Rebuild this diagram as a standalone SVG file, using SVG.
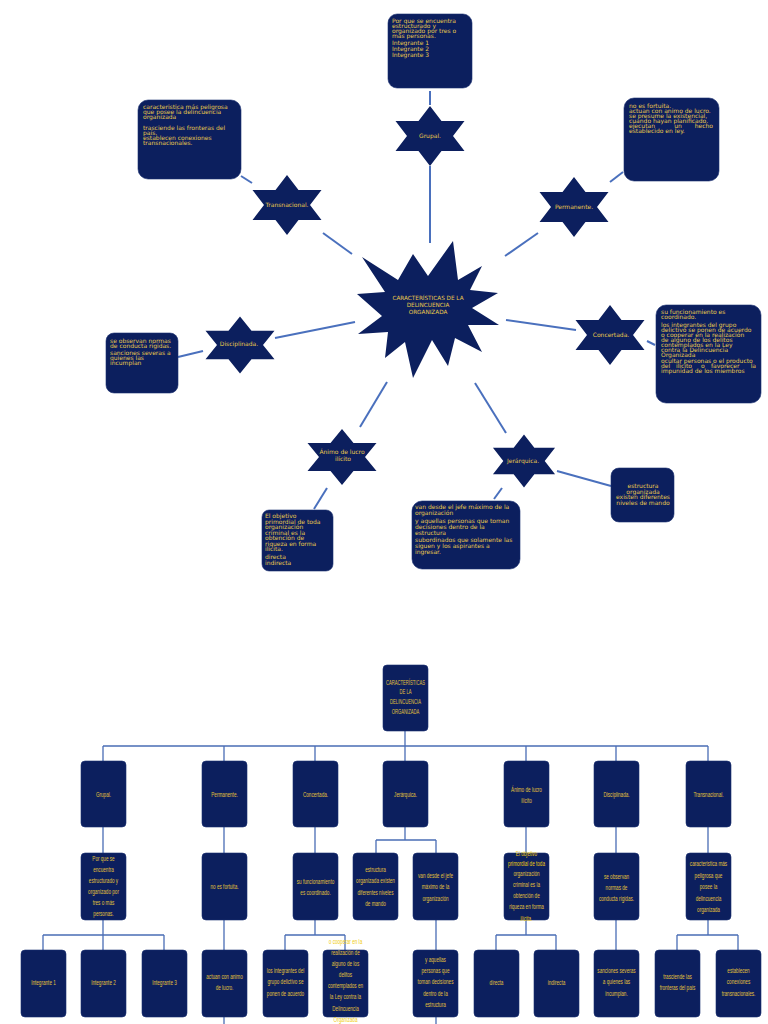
<svg xmlns="http://www.w3.org/2000/svg" width="768" height="1024" viewBox="0 0 768 1024">
<style>
.bg{fill:#ffffff}
.box{fill:#0c1f5e;stroke:#1a2f70;stroke-width:0.6}
.star{fill:#0c1f5e}
.ln{stroke:#4a70bd;stroke-width:2;fill:none;stroke-linecap:butt}
.ln2{stroke:#4a6db5;stroke-width:1.3;fill:none}
.tt{font-family:"DejaVu Sans","Liberation Sans",sans-serif;font-size:6px;fill:#e8c84c}
.st{font-family:"DejaVu Sans","Liberation Sans",sans-serif;font-size:6px;fill:#e8c84c;text-anchor:middle}
.bt{font-family:"Liberation Sans",Arial,sans-serif;font-size:8px;fill:#e2c13a;text-anchor:middle}
.ov{fill:#f0cc10}
</style>
<defs>
<polygon id="hex" points="0,-30 11.5,-15 34.5,-15 23,0 34.5,15 11.5,15 0,30 -11.5,15 -34.5,15 -23,0 -34.5,-15 -11.5,-15"/>
</defs>
<rect class="bg" x="0" y="0" width="768" height="1024"/>

<g id="connectors-top">
<line class="ln" x1="430" y1="91" x2="430" y2="105"/>
<line class="ln" x1="430" y1="166" x2="430" y2="243"/>
<line class="ln" x1="241" y1="176" x2="252" y2="183"/>
<line class="ln" x1="323" y1="233" x2="352" y2="254"/>
<line class="ln" x1="623" y1="172" x2="610" y2="182"/>
<line class="ln" x1="538" y1="233" x2="505" y2="256"/>
<line class="ln" x1="178" y1="357" x2="203" y2="351"/>
<line class="ln" x1="275" y1="338" x2="355" y2="322"/>
<line class="ln" x1="506" y1="320" x2="576" y2="330"/>
<line class="ln" x1="647" y1="341" x2="655" y2="345"/>
<line class="ln" x1="387" y1="382" x2="360" y2="427"/>
<line class="ln" x1="327" y1="488" x2="314" y2="509"/>
<line class="ln" x1="475" y1="383" x2="506" y2="433"/>
<line class="ln" x1="557" y1="471" x2="611" y2="486"/>
<line class="ln" x1="502" y1="488" x2="494" y2="499"/>
</g>

<g id="center">
<polygon class="star" points="453,241 458,280 482,266 470,290 498,293 472,308 499,325 468,325 482,352 455,338 448,366 432,340 413,378 405,342 385,358 388,332 358,334 382,316 357,294 385,292 362,257 398,280 413,254 428,276"/>
<text class="st" style="font-size:5.7px" x="428" y="300">CARACTERÍSTICAS DE LA</text>
<text class="st" style="font-size:5.7px" x="428" y="307">DELINCUENCIA</text>
<text class="st" style="font-size:5.7px" x="428" y="313.5">ORGANIZADA</text>
</g>

<g id="star-grupal">
<use href="#hex" class="star" transform="translate(430,136)"/>
<text class="st" x="430" y="138">Grupal.</text>
</g>
<g id="box-grupal">
<rect class="box" x="388" y="14" width="84" height="74" rx="9"/>
<text class="tt" x="392" y="22.7">Por que se encuentra</text>
<text class="tt" x="392" y="27.7">estructurado y</text>
<text class="tt" x="392" y="32.7">organizado por tres o</text>
<text class="tt" x="392" y="37.7">más personas.</text>
<text class="tt" x="392" y="45">Integrante 1</text>
<text class="tt" x="392" y="51">Integrante 2</text>
<text class="tt" x="392" y="57">Integrante 3</text>
</g>

<g id="star-transnacional">
<use href="#hex" class="star" transform="translate(287,205)"/>
<text class="st" x="287" y="207">Transnacional.</text>
</g>
<g id="box-transnacional">
<rect class="box" x="138" y="100" width="103" height="79" rx="10"/>
<text class="tt" x="143" y="108.7">caracteristica más peligrosa</text>
<text class="tt" x="143" y="113.7">que posee la delincuencia</text>
<text class="tt" x="143" y="118.7">organizada</text>
<text class="tt" x="143" y="129.7">trasciende las fronteras del</text>
<text class="tt" x="143" y="134.7">país.</text>
<text class="tt" x="143" y="140.3">establecen conexiones</text>
<text class="tt" x="143" y="145.3">transnacionales.</text>
</g>

<g id="star-permanente">
<use href="#hex" class="star" transform="translate(574,207)"/>
<text class="st" x="574" y="209">Permanente.</text>
</g>
<g id="box-permanente">
<rect class="box" x="624" y="98" width="95" height="83" rx="10"/>
<text class="tt" x="629" y="107.7">no es fortuita.</text>
<text class="tt" x="629" y="113">actuan con animo de lucro.</text>
<text class="tt" x="629" y="118">se presume la existencial,</text>
<text class="tt" x="629" y="123">cuando hayan planificado.</text>
<text class="tt" x="629" y="128">ejecutan</text>
<text class="tt" x="678" y="128" text-anchor="middle">un</text>
<text class="tt" x="713" y="128" text-anchor="end">hecho</text>
<text class="tt" x="629" y="133">establecido en ley.</text>
</g>

<g id="star-disciplinada">
<use href="#hex" class="star" transform="translate(240,345) scale(1,0.95)"/>
<text class="st" x="239" y="346">Disciplinada.</text>
</g>
<g id="box-disciplinada">
<rect class="box" x="106" y="333" width="72" height="60" rx="8"/>
<text class="tt" x="110" y="342.7">se observan normas</text>
<text class="tt" x="110" y="348">de conducta rígidas.</text>
<text class="tt" x="110" y="355.3">sanciones severas a</text>
<text class="tt" x="110" y="360.3">quienes las</text>
<text class="tt" x="110" y="365.3">incumplan</text>
</g>

<g id="star-concertada">
<use href="#hex" class="star" transform="translate(610,335)"/>
<text class="st" x="611" y="337">Concertada.</text>
</g>
<g id="box-concertada">
<rect class="box" x="656" y="305" width="105" height="98" rx="10"/>
<text class="tt" x="661" y="313.7">su funcionamiento es</text>
<text class="tt" x="661" y="319.3">coordinado.</text>
<text class="tt" x="661" y="327">los integrantes del grupo</text>
<text class="tt" x="661" y="332">delictivo se ponen de acuerdo</text>
<text class="tt" x="661" y="337">o cooperar en la realización</text>
<text class="tt" x="661" y="342">de alguno de los delitos</text>
<text class="tt" x="661" y="347">contemplados en la Ley</text>
<text class="tt" x="661" y="352">contra la Delincuencia</text>
<text class="tt" x="661" y="357">Organizada</text>
<text class="tt" x="661" y="362.7">ocultar personas o el producto</text>
<text class="tt" x="661" y="368">del</text>
<text class="tt" x="676" y="368">ilícito</text>
<text class="tt" x="701" y="368">o</text>
<text class="tt" x="711" y="368">favorecer</text>
<text class="tt" x="756" y="368" text-anchor="end">la</text>
<text class="tt" x="661" y="373">impunidad de los miembros</text>
</g>

<g id="star-animo">
<use href="#hex" class="star" transform="translate(342,457) scale(1,0.93)"/>
<text class="st" x="342" y="454">Ánimo de lucro</text>
<text class="st" x="343" y="461">ilícito</text>
</g>
<g id="box-animo">
<rect class="box" x="262" y="510" width="71" height="61" rx="7"/>
<text class="tt" x="265" y="518">El objetivo</text>
<text class="tt" x="265" y="523.7">primordial de toda</text>
<text class="tt" x="265" y="529.3">organización</text>
<text class="tt" x="265" y="534.7">criminal es la</text>
<text class="tt" x="265" y="540.3">obtención de</text>
<text class="tt" x="265" y="546">riqueza en forma</text>
<text class="tt" x="265" y="551.3">ilícita.</text>
<text class="tt" x="265" y="558.7">directa</text>
<text class="tt" x="265" y="565.3">indirecta</text>
</g>

<g id="star-jerarquica">
<use href="#hex" class="star" transform="translate(524,461) scale(0.9,0.88)"/>
<text class="st" x="523" y="463">Jerárquica.</text>
</g>
<g id="box-jerarquica-1">
<rect class="box" x="611" y="468" width="63" height="54" rx="8"/>
<text class="st" x="643" y="488">estructura</text>
<text class="st" x="643" y="493.7">organizada</text>
<text class="st" x="643" y="499.3">existen diferentes</text>
<text class="st" x="643" y="505.3">niveles de mando</text>
</g>
<g id="box-jerarquica-2">
<rect class="box" x="412" y="501" width="108" height="68" rx="10"/>
<text class="tt" x="415" y="508.7">van desde el jefe máximo de la</text>
<text class="tt" x="415" y="515.3">organización</text>
<text class="tt" x="415" y="522.7">y aquellas personas que toman</text>
<text class="tt" x="415" y="528.7">decisiones dentro de la</text>
<text class="tt" x="415" y="534.7">estructura</text>
<text class="tt" x="415" y="542">subordinados que solamente las</text>
<text class="tt" x="415" y="548">siguen y los aspirantes a</text>
<text class="tt" x="415" y="554.3">ingresar.</text>
</g>

<!-- Bottom org chart -->
<g id="connectors-bottom">
<path class="ln2" d="M405,731V746M103,746H708M103,746V761M224,746V761M315,746V761M405,746V761M526,746V761M616,746V761M708,746V761"/>
<path class="ln2" d="M103,827V853M224,827V853M315,827V853M526,827V853M616,827V853M708,827V853M405,827V840M376,840H436M376,840V853M436,840V853"/>
<path class="ln2" d="M103,920V935M43,935H164M43,935V950M103,935V950M164,935V950"/>
<path class="ln2" d="M224,920V950M224,1017V1024"/>
<path class="ln2" d="M315,920V935M285,935H345M285,935V950M345,935V950"/>
<path class="ln2" d="M436,920V950M436,1017V1024"/>
<path class="ln2" d="M526,920V935M496,935H556M496,935V950M556,935V950"/>
<path class="ln2" d="M616,920V950"/>
<path class="ln2" d="M708,920V935M677,935H738M677,935V950M738,935V950"/>
</g>

<g id="o-root">
<rect class="box" x="383" y="665" width="45" height="66" rx="4"/>
<text class="bt" transform="translate(405.5,685) scale(0.52,1)">CARACTERÍSTICAS</text>
<text class="bt" transform="translate(405.5,694) scale(0.52,1)">DE LA</text>
<text class="bt" transform="translate(405.5,704) scale(0.52,1)">DELINCUENCIA</text>
<text class="bt" transform="translate(405.5,714) scale(0.52,1)">ORGANIZADA</text>
</g>

<g id="o-grupal">
<rect class="box" x="81" y="761" width="45" height="66" rx="4"/>
<text class="bt" transform="translate(103.5,797) scale(0.58,1)">Grupal.</text>
</g>
<g id="o-permanente">
<rect class="box" x="202" y="761" width="45" height="66" rx="4"/>
<text class="bt" transform="translate(224.5,797) scale(0.58,1)">Permanente.</text>
</g>
<g id="o-concertada">
<rect class="box" x="293" y="761" width="45" height="66" rx="4"/>
<text class="bt" transform="translate(315.5,797) scale(0.58,1)">Concertada.</text>
</g>
<g id="o-jerarquica">
<rect class="box" x="383" y="761" width="45" height="66" rx="4"/>
<text class="bt" transform="translate(405.5,797) scale(0.58,1)">Jerárquica.</text>
</g>
<g id="o-animo">
<rect class="box" x="504" y="761" width="45" height="66" rx="4"/>
<text class="bt" transform="translate(526.5,792) scale(0.58,1)">Ánimo de lucro</text>
<text class="bt" transform="translate(526.5,803) scale(0.58,1)">ilícito</text>
</g>
<g id="o-disciplinada">
<rect class="box" x="594" y="761" width="45" height="66" rx="4"/>
<text class="bt" transform="translate(616.5,797) scale(0.58,1)">Disciplinada.</text>
</g>
<g id="o-transnacional">
<rect class="box" x="686" y="761" width="45" height="66" rx="4"/>
<text class="bt" transform="translate(708.5,797) scale(0.58,1)">Transnacional.</text>
</g>

<g id="o-grupal-2">
<rect class="box" x="81" y="853" width="45" height="67" rx="4"/>
<text class="bt" transform="translate(103.5,861) scale(0.58,1)">Por que se</text>
<text class="bt" transform="translate(103.5,872) scale(0.58,1)">encuentra</text>
<text class="bt" transform="translate(103.5,883) scale(0.58,1)">estructurado y</text>
<text class="bt" transform="translate(103.5,894) scale(0.58,1)">organizado por</text>
<text class="bt" transform="translate(103.5,905) scale(0.58,1)">tres o más</text>
<text class="bt" transform="translate(103.5,916) scale(0.58,1)">personas.</text>
</g>
<g id="o-permanente-2">
<rect class="box" x="202" y="853" width="45" height="67" rx="4"/>
<text class="bt" transform="translate(224.5,889) scale(0.58,1)">no es fortuita.</text>
</g>
<g id="o-concertada-2">
<rect class="box" x="293" y="853" width="45" height="67" rx="4"/>
<text class="bt" transform="translate(315.5,884) scale(0.58,1)">su funcionamiento</text>
<text class="bt" transform="translate(315.5,895) scale(0.58,1)">es coordinado.</text>
</g>
<g id="o-jerarquica-2a">
<rect class="box" x="353" y="853" width="45" height="67" rx="4"/>
<text class="bt" transform="translate(375.5,872) scale(0.58,1)">estructura</text>
<text class="bt" transform="translate(375.5,883) scale(0.58,1)">organizada existen</text>
<text class="bt" transform="translate(375.5,895) scale(0.58,1)">diferentes niveles</text>
<text class="bt" transform="translate(375.5,906) scale(0.58,1)">de mando</text>
</g>
<g id="o-jerarquica-2b">
<rect class="box" x="413" y="853" width="45" height="67" rx="4"/>
<text class="bt" transform="translate(435.5,878) scale(0.58,1)">van desde el  jefe</text>
<text class="bt" transform="translate(435.5,889) scale(0.58,1)">máximo de la</text>
<text class="bt" transform="translate(435.5,901) scale(0.58,1)">organización</text>
</g>
<g id="o-animo-2">
<rect class="box" x="504" y="853" width="45" height="67" rx="4"/>
<text class="bt ov" transform="translate(526.5,856) scale(0.58,1)">El objetivo</text>
<text class="bt ov" transform="translate(526.5,866) scale(0.58,1)">primordial de toda</text>
<text class="bt" transform="translate(526.5,876) scale(0.58,1)">organización</text>
<text class="bt" transform="translate(526.5,887) scale(0.58,1)">criminal es la</text>
<text class="bt" transform="translate(526.5,898) scale(0.58,1)">obtención de</text>
<text class="bt" transform="translate(526.5,909) scale(0.58,1)">riqueza en forma</text>
<text class="bt ov" transform="translate(526.5,921) scale(0.58,1)">ilícita.</text>
</g>
<g id="o-disciplinada-2">
<rect class="box" x="594" y="853" width="45" height="67" rx="4"/>
<text class="bt" transform="translate(616.5,879) scale(0.58,1)">se observan</text>
<text class="bt" transform="translate(616.5,890) scale(0.58,1)">normas de</text>
<text class="bt" transform="translate(616.5,901) scale(0.58,1)">conducta rígidas.</text>
</g>
<g id="o-transnacional-2">
<rect class="box" x="686" y="853" width="45" height="67" rx="4"/>
<text class="bt" transform="translate(708.5,866) scale(0.58,1)">caracteristica más</text>
<text class="bt" transform="translate(708.5,878) scale(0.58,1)">peligrosa que</text>
<text class="bt" transform="translate(708.5,889) scale(0.58,1)">posee la</text>
<text class="bt" transform="translate(708.5,901) scale(0.58,1)">delincuencia</text>
<text class="bt" transform="translate(708.5,912) scale(0.58,1)">organizada</text>
</g>

<g id="o-integrante-1">
<rect class="box" x="21" y="950" width="45" height="67" rx="4"/>
<text class="bt" transform="translate(43.5,985) scale(0.58,1)">Integrante 1</text>
</g>
<g id="o-integrante-2">
<rect class="box" x="81" y="950" width="45" height="67" rx="4"/>
<text class="bt" transform="translate(103.5,985) scale(0.58,1)">Integrante 2</text>
</g>
<g id="o-integrante-3">
<rect class="box" x="142" y="950" width="45" height="67" rx="4"/>
<text class="bt" transform="translate(164.5,985) scale(0.58,1)">Integrante 3</text>
</g>
<g id="o-permanente-3">
<rect class="box" x="202" y="950" width="45" height="67" rx="4"/>
<text class="bt" transform="translate(224.5,979) scale(0.58,1)">actuan  con  animo</text>
<text class="bt" transform="translate(224.5,990) scale(0.58,1)">de lucro.</text>
</g>
<g id="o-concertada-3a">
<rect class="box" x="263" y="950" width="45" height="67" rx="4"/>
<text class="bt" transform="translate(285.5,973) scale(0.58,1)">los integrantes del</text>
<text class="bt" transform="translate(285.5,984) scale(0.58,1)">grupo delictivo se</text>
<text class="bt" transform="translate(285.5,996) scale(0.58,1)">ponen de acuerdo</text>
</g>
<g id="o-concertada-3b">
<rect class="box" x="323" y="950" width="45" height="67" rx="4"/>
<text class="bt ov" transform="translate(345.5,944) scale(0.58,1)">o cooperar en la</text>
<text class="bt" transform="translate(345.5,955) scale(0.58,1)">realización de</text>
<text class="bt" transform="translate(345.5,966) scale(0.58,1)">alguno de los</text>
<text class="bt" transform="translate(345.5,977) scale(0.58,1)">delitos</text>
<text class="bt" transform="translate(345.5,988) scale(0.58,1)">contemplados en</text>
<text class="bt" transform="translate(345.5,999) scale(0.58,1)">la Ley contra la</text>
<text class="bt" transform="translate(345.5,1011) scale(0.58,1)">Delincuencia</text>
<text class="bt ov" transform="translate(345.5,1022) scale(0.58,1)">Organizada</text>
</g>
<g id="o-jerarquica-3">
<rect class="box" x="413" y="950" width="45" height="67" rx="4"/>
<text class="bt" transform="translate(435.5,962) scale(0.58,1)">y aquellas</text>
<text class="bt" transform="translate(435.5,973) scale(0.58,1)">personas que</text>
<text class="bt" transform="translate(435.5,984) scale(0.58,1)">toman decisiones</text>
<text class="bt" transform="translate(435.5,996) scale(0.58,1)">dentro de la</text>
<text class="bt" transform="translate(435.5,1007) scale(0.58,1)">estructura</text>
</g>
<g id="o-directa">
<rect class="box" x="474" y="950" width="45" height="67" rx="4"/>
<text class="bt" transform="translate(496.5,985) scale(0.58,1)">directa</text>
</g>
<g id="o-indirecta">
<rect class="box" x="534" y="950" width="45" height="67" rx="4"/>
<text class="bt" transform="translate(556.5,985) scale(0.58,1)">indirecta</text>
</g>
<g id="o-disciplinada-3">
<rect class="box" x="594" y="950" width="45" height="67" rx="4"/>
<text class="bt" transform="translate(616.5,973) scale(0.58,1)">sanciones severas</text>
<text class="bt" transform="translate(616.5,984) scale(0.58,1)">a quienes las</text>
<text class="bt" transform="translate(616.5,996) scale(0.58,1)">incumplan.</text>
</g>
<g id="o-transnacional-3a">
<rect class="box" x="655" y="950" width="45" height="67" rx="4"/>
<text class="bt" transform="translate(677.5,979) scale(0.58,1)">trasciende las</text>
<text class="bt" transform="translate(677.5,990) scale(0.58,1)">fronteras del país</text>
</g>
<g id="o-transnacional-3b">
<rect class="box" x="716" y="950" width="45" height="67" rx="4"/>
<text class="bt" transform="translate(738.5,973) scale(0.58,1)">establecen</text>
<text class="bt" transform="translate(738.5,984) scale(0.58,1)">conexiones</text>
<text class="bt" transform="translate(738.5,996) scale(0.58,1)">transnacionales.</text>
</g>
</svg>
